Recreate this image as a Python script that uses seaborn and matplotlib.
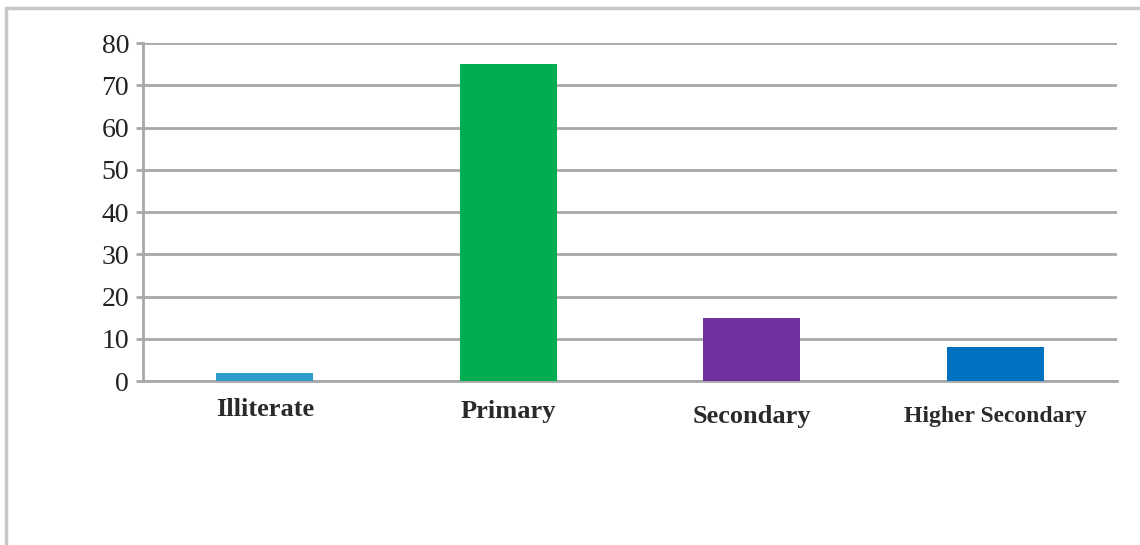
import matplotlib
matplotlib.use("Agg")
import matplotlib.pyplot as plt
import matplotlib.transforms as mtransforms
import seaborn as sns
import pandas as pd
from matplotlib.patches import Rectangle

categories = ["Illiterate", "Primary", "Secondary", "Higher Secondary"]
values = [2, 75, 15, 8]
colors = ["#2f9bcb", "#00ad50", "#7030a0", "#0070c0"]
yticks = [0, 10, 20, 30, 40, 50, 60, 70, 80]

sns.set_theme(style="white")
plt.rcParams["font.family"] = ["Liberation Serif", "DejaVu Serif"]

df = pd.DataFrame({"cat": categories, "val": values})

fig = plt.figure(figsize=(11.4, 5.45), dpi=100)
ax = fig.add_axes([0.1254, 0.3009, 0.8544, 0.6202])

sns.barplot(data=df, x="cat", y="val", hue="cat", palette=colors,
            width=0.4, ax=ax, legend=False, saturation=1, zorder=3,
            linewidth=0)

ax.set_ylim(0, 80)
ax.set_yticks(yticks)
ax.set_yticklabels([str(t) for t in yticks], fontsize=20, color="#222222")
ax.set_xlabel("")
ax.set_ylabel("")
ax.grid(axis="y", color="#a8a8a8", linewidth=2, zorder=0)
ax.set_axisbelow(True)
for s in ["top", "right"]:
    ax.spines[s].set_visible(False)
ax.spines["left"].set_color("#a8a8a8")
ax.spines["left"].set_linewidth(2)
ax.spines["bottom"].set_color("#a8a8a8")
ax.spines["bottom"].set_linewidth(2)
ax.tick_params(axis="y", length=5, width=2, color="#a8a8a8", pad=5, left=True)
ax.tick_params(axis="x", length=0, pad=12)

sizes = [19, 19, 19, 17]
offsets = [0, -2, -7, -8]
for lbl, fs, dy in zip(ax.get_xticklabels(), sizes, offsets):
    lbl.set_fontsize(fs)
    lbl.set_fontweight("bold")
    lbl.set_color("#2a2a2a")
    lbl.set_transform(lbl.get_transform() +
                      mtransforms.ScaledTranslation(0, dy / 100, fig.dpi_scale_trans))

# outer frame
fig.patches.append(Rectangle((6 / 1140, -0.1), 1.2, (545 - 8) / 545 + 0.1,
                             transform=fig.transFigure, fill=False,
                             edgecolor="#c8c8c8", linewidth=2.5))

fig.savefig("out.png", dpi=100)
